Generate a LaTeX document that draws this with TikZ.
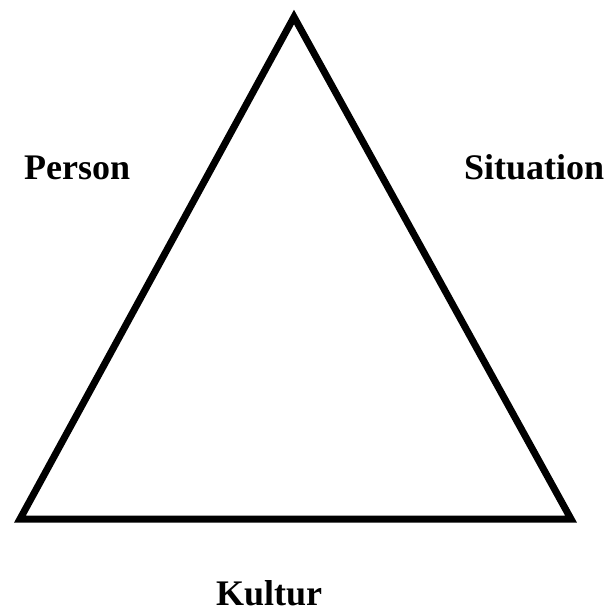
\documentclass[tikz,border=0pt]{standalone}
\usepackage{fontspec}
\setmainfont{Liberation Serif}
\begin{document}
\begin{tikzpicture}[x=1pt,y=-1pt,
  lbl/.style={font=\fontsize{36}{40}\selectfont\bfseries, inner sep=0pt, anchor=base west},
  tri/.style={line width=7pt, line join=miter}]
\useasboundingbox (0,0) rectangle (610,614);
\coordinate (top) at (294,17);
\coordinate (bl) at (20,519);
\coordinate (br) at (571,519);
\draw[tri] (top) -- (bl) -- (br) -- cycle;
\node[lbl] (person) at (24,179) {Person};
\node[lbl] (situation) at (464,179) {Situation};
\node[lbl] (kultur) at (216,605) {Kultur};
\end{tikzpicture}
\end{document}
